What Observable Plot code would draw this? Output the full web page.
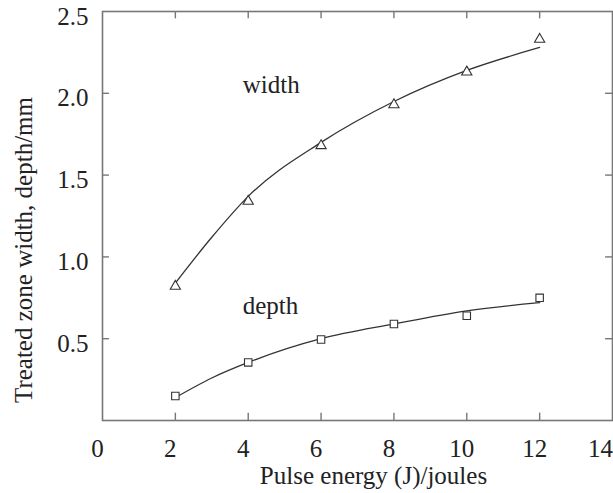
<!DOCTYPE html>
<html>
<head>
<meta charset="utf-8">
<script src="https://cdn.jsdelivr.net/npm/d3@7"></script>
<script src="https://cdn.jsdelivr.net/npm/@observablehq/plot@0.6"></script>
<style>
  html, body { margin: 0; padding: 0; background: #fff; }
</style>
</head>
<body>
<div id="chart"></div>
<script>
const energy = [2, 4, 6, 8, 10, 12];
const widthMeasured = [0.82, 1.34, 1.68, 1.93, 2.13, 2.33];
const depthMeasured = [0.15, 0.355, 0.495, 0.59, 0.64, 0.75];
const fitEnergy = [2, 3, 4, 6, 8, 10, 12];
const widthFit = [0.84, 1.12, 1.37, 1.70, 1.95, 2.14, 2.28];
const depthFit = [0.14, 0.26, 0.355, 0.50, 0.59, 0.67, 0.72];
const xTicks = [0, 2, 4, 6, 8, 10, 12];
const xEdgeTick = [14];
const xMarks = [2, 4, 6, 8, 10, 12];
const yTicks = [0.5, 1.0, 1.5, 2.0, 2.5];
const yMarks = [0.5, 1.0, 1.5, 2.0];
const xLabel = "Pulse energy (J)/joules";
const yLabel = "Treated zone width, depth/mm";
const seriesLabels = [
  {name: "width", x: 3.85, y: 2.05},
  {name: "depth", x: 3.85, y: 0.70}
];

const widthPts = energy.map((e, i) => ({x: e, y: widthMeasured[i]}));
const depthPts = energy.map((e, i) => ({x: e, y: depthMeasured[i]}));
const widthLine = fitEnergy.map((e, i) => ({x: e, y: widthFit[i]}));
const depthLine = fitEnergy.map((e, i) => ({x: e, y: depthFit[i]}));

const ink = "#222";
const frameColor = "#777";
const fs = 25;

const chart = Plot.plot({
  width: 613,
  height: 493,
  marginLeft: 102,
  marginRight: 1,
  marginTop: 11,
  marginBottom: 73,
  style: {fontFamily: "'Liberation Serif', 'Times New Roman', serif", fontSize: fs + "px", color: ink, background: "#fff"},
  x: {domain: [0, 14]},
  y: {domain: [0, 2.5]},
  marks: [
    Plot.frame({stroke: frameColor, strokeWidth: 1.6}),
    Plot.ruleX(xMarks, {y1: 0, y2: 0.045, stroke: frameColor, strokeWidth: 1.4}),
    Plot.ruleX(xMarks, {y1: 2.5, y2: 2.455, stroke: frameColor, strokeWidth: 1.4}),
    Plot.ruleY(yMarks, {x1: 0, x2: 0.19, stroke: frameColor, strokeWidth: 1.4}),
    Plot.ruleY(yMarks, {x1: 14, x2: 13.81, stroke: frameColor, strokeWidth: 1.4}),
    Plot.axisX({ticks: xTicks, tickSize: 0, tickPadding: 19, tickFormat: d => String(d), label: null, fontSize: fs, fill: ink, dx: -5}),
    Plot.axisX({ticks: xEdgeTick, tickSize: 0, tickPadding: 19, tickFormat: d => String(d), label: null, fontSize: fs, fill: ink, dx: -12}),
    Plot.axisY({ticks: yTicks, tickSize: 0, tickPadding: 14, tickFormat: d => d.toFixed(1), label: null, fontSize: fs, fill: ink, dy: 5}),
    Plot.line(widthLine, {x: "x", y: "y", curve: "monotone-x", stroke: "#333", strokeWidth: 1.3}),
    Plot.line(depthLine, {x: "x", y: "y", curve: "monotone-x", stroke: "#333", strokeWidth: 1.3}),
    Plot.dot(widthPts, {x: "x", y: "y", symbol: "triangle", r: 3.8, stroke: "#333", fill: "white", strokeWidth: 1.1}),
    Plot.dot(depthPts, {x: "x", y: "y", symbol: "square", r: 4.2, stroke: "#333", fill: "white", strokeWidth: 1.1}),
    Plot.text(seriesLabels, {x: "x", y: "y", text: "name", textAnchor: "start", fontSize: fs, fill: ink}),
    Plot.text([xLabel], {frameAnchor: "bottom", textAnchor: "middle", dx: 16, dy: 63, fontSize: fs, fill: ink}),
    Plot.text([yLabel], {frameAnchor: "left", textAnchor: "middle", lineAnchor: "middle", rotate: -90, dx: -79, dy: 34, fontSize: fs, fill: ink})
  ]
});
document.getElementById("chart").appendChild(chart);
</script>
</body>
</html>
